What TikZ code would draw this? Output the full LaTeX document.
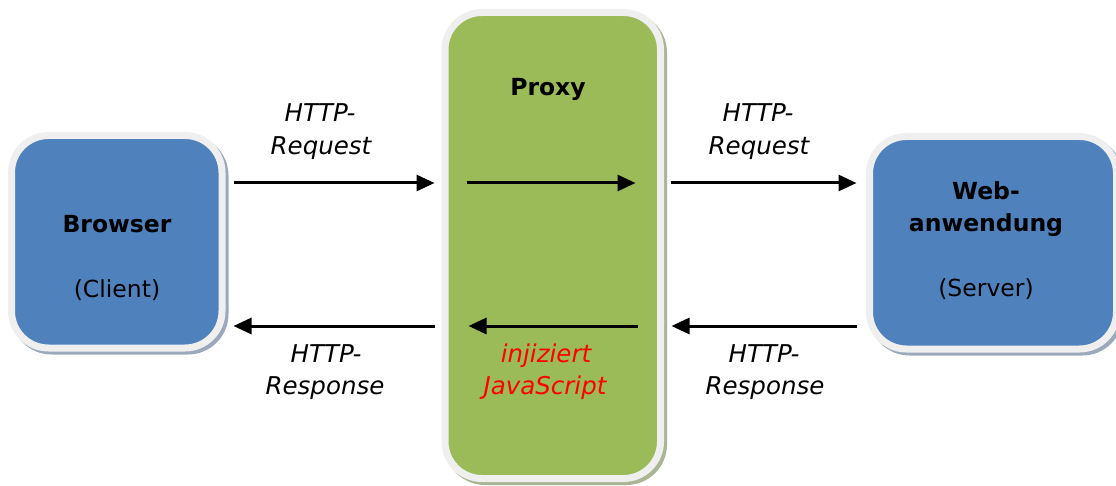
\documentclass[tikz,border=0pt]{standalone}
\usepackage{fontspec}
\setmainfont{DejaVu Sans}
\usetikzlibrary{arrows.meta}
\definecolor{boxblue}{HTML}{4F81BD}
\definecolor{boxgreen}{HTML}{9BBB59}
\definecolor{rimgray}{HTML}{EFEFEF}
\definecolor{blueshade}{HTML}{9CA9BB}
\definecolor{greenshade}{HTML}{AAB594}
\definecolor{injred}{HTML}{FF0000}
\tikzset{
  panel/.style={draw=rimgray, line width=7pt, rounded corners=37pt,
    rectangle, inner sep=0pt,
    preaction={draw=#1, line width=7pt,
      transform canvas={shift={(3pt,-3pt)}}}},
  bluepanel/.style={panel=blueshade, fill=boxblue},
  greenpanel/.style={panel=greenshade, fill=boxgreen},
  txt/.style={anchor=base, inner sep=0pt, font=\fontsize{23.5}{28}\selectfont},
  title/.style={txt, font=\fontsize{23.5}{28}\selectfont\bfseries},
  lbl/.style={txt, font=\fontsize{24.5}{28}\selectfont\itshape},
  flow/.style={line width=3pt, -{Triangle[length=18pt,width=16pt]}}
}
\begin{document}
\begin{tikzpicture}[x=1pt,y=-1pt]
\useasboundingbox (0,0) rectangle (1116,486);

% the three boxes
\node[bluepanel, minimum width=210.5pt, minimum height=212.5pt] (browser) at (116.75,241.75) {};
\node[greenpanel, minimum width=215.5pt, minimum height=466pt] (proxy) at (552.75,245.5) {};
\node[bluepanel, minimum width=247pt, minimum height=212.5pt] (web) at (993,242.75) {};

% box texts
\node[title] (browserT) at (117,233) {Browser};
\node[txt] (clientT) at (117,298) {(Client)};
\node[title] (proxyT) at (548,96) {Proxy};
\node[title] (webT1) at (986,200) {Web-};
\node[title] (webT2) at (986,232) {anwendung};
\node[txt] (serverT) at (986,296) {(Server)};

% rows of the two flows
\coordinate (reqrow) at (0,183);
\coordinate (resrow) at (0,326);

% request path
\draw[flow, shorten <=8pt, shorten >=7pt] (browser.east |- reqrow) -- (proxy.west |- reqrow);
\draw[flow, shorten <=25pt, shorten >=28.5pt] (proxy.west |- reqrow) -- (proxy.east |- reqrow);
\draw[flow, shorten <=6.5pt, shorten >=9.5pt] (proxy.east |- reqrow) -- (web.west |- reqrow);

% response path
\draw[flow, shorten <=9.5pt, shorten >=7.5pt] (web.west |- resrow) -- (proxy.east |- resrow);
\draw[flow, shorten <=26.5pt, shorten >=27pt] (proxy.east |- resrow) -- (proxy.west |- resrow);
\draw[flow, shorten <=7pt, shorten >=8pt] (proxy.west |- resrow) -- (browser.east |- resrow);

% arrow labels
\node[lbl] (rq1a) at (320,122) {HTTP-};
\node[lbl] (rq1b) at (321,155) {Request};
\node[lbl] (rq2a) at (758,122) {HTTP-};
\node[lbl] (rq2b) at (759,155) {Request};
\node[lbl] (rs1a) at (326,362) {HTTP-};
\node[lbl] (rs1b) at (325,394) {Response};
\node[lbl] (rs2a) at (764,362) {HTTP-};
\node[lbl] (rs2b) at (765,394) {Response};
\node[lbl, text=injred] (inj1) at (546,362) {injiziert};
\node[lbl, text=injred] (inj2) at (545,394) {JavaScript};
\end{tikzpicture}
\end{document}
